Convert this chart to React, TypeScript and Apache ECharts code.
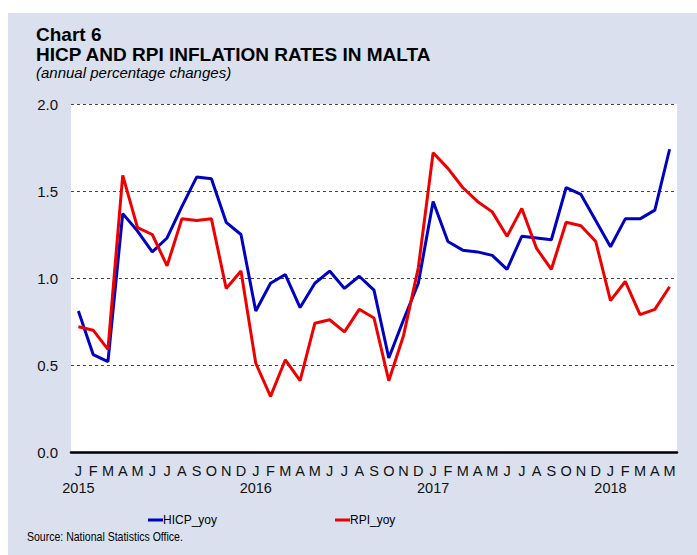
import React, { useEffect, useRef } from "react";
import * as echarts from "echarts";

const monthLetters = ["J", "F", "M", "A", "M", "J", "J", "A", "S", "O", "N", "D"];
const years = ["2015", "2016", "2017", "2018"];
const yTicks = [0, 0.5, 1.0, 1.5, 2.0];

const hicp = [
  0.81, 0.56, 0.52, 1.37, 1.27, 1.15, 1.23, 1.41, 1.58, 1.57, 1.32, 1.25,
  0.81, 0.97, 1.02, 0.83, 0.97, 1.04, 0.94, 1.01, 0.93, 0.54, 0.76, 0.97,
  1.44, 1.21, 1.16, 1.15, 1.13, 1.05, 1.24, 1.23, 1.22, 1.52, 1.48, 1.33,
  1.18, 1.34, 1.34, 1.39, 1.74,
];
const rpi = [
  0.72, 0.70, 0.59, 1.59, 1.29, 1.25, 1.07, 1.34, 1.33, 1.34, 0.94, 1.04,
  0.51, 0.32, 0.53, 0.41, 0.74, 0.76, 0.69, 0.82, 0.77, 0.41, 0.67, 1.06,
  1.72, 1.63, 1.52, 1.44, 1.38, 1.24, 1.40, 1.17, 1.05, 1.32, 1.30, 1.21,
  0.87, 0.98, 0.79, 0.82, 0.95,
];

const categories: string[] = [];
for (let i = 0; i < hicp.length; i++) {
  const m = i % 12;
  const y = Math.floor(i / 12);
  categories.push(m === 0 ? `${monthLetters[m]}\n${years[y]}` : monthLetters[m]);
}

const FONT = "'Liberation Sans', Arial, sans-serif";

export default function App() {
  const ref = useRef<HTMLDivElement>(null);
  useEffect(() => {
    if (!ref.current) return;
    const chart = echarts.init(ref.current, undefined, { renderer: "svg" });
    chart.setOption({
      animation: false,
      backgroundColor: "#ffffff",
      textStyle: { fontFamily: FONT },
      graphic: [
        {
          type: "rect",
          z: -10,
          silent: true,
          shape: { x: 8, y: 13, width: 689, height: 542 },
          style: { fill: "#dae0ed" },
        },
        {
          type: "rect",
          z: -9,
          silent: true,
          shape: { x: 71, y: 104, width: 606, height: 348 },
          style: { fill: "#ffffff" },
        },
        {
          type: "text",
          x: 36,
          y: 34.5,
          style: {
            text: "Chart 6",
            font: `bold 19px ${FONT}`,
            fill: "#000",
            verticalAlign: "middle",
          },
        },
        {
          type: "text",
          x: 36,
          y: 54,
          style: {
            text: "HICP AND RPI INFLATION RATES IN MALTA",
            font: `bold 19px ${FONT}`,
            fill: "#000",
            verticalAlign: "middle",
          },
        },
        {
          type: "text",
          x: 36,
          y: 72.5,
          style: {
            text: "(annual percentage changes)",
            font: `italic 15px ${FONT}`,
            fill: "#000",
            verticalAlign: "middle",
          },
        },
        {
          type: "text",
          x: 27,
          y: 537,
          scaleX: 0.81,
          style: {
            text: "Source: National Statistics Office.",
            font: `13px ${FONT}`,
            fill: "#000",
            verticalAlign: "middle",
          },
        },
      ],
      grid: { left: 71, right: 20, top: 104, bottom: 103, containLabel: false },
      legend: {
        left: 143,
        top: 509,
        icon: "rect",
        itemWidth: 15,
        itemHeight: 3,
        itemGap: 118,
        textStyle: { fontFamily: FONT, fontSize: 12, color: "#000", padding: [0, 0, 0, -5] },
        data: ["HICP_yoy", "RPI_yoy"],
      },
      xAxis: {
        type: "category",
        data: categories,
        boundaryGap: true,
        axisLine: { show: true, lineStyle: { color: "#000", width: 2.5 } },
        axisTick: { show: false },
        axisLabel: {
          interval: 0,
          color: "#111",
          fontSize: 14.5,
          lineHeight: 17,
          margin: 10,
          fontFamily: FONT,
        },
        splitLine: { show: false },
      },
      yAxis: {
        type: "value",
        min: 0,
        max: 2,
        interval: 0.5,
        axisLine: { show: false },
        axisTick: { show: false },
        axisLabel: {
          color: "#111",
          fontSize: 15,
          margin: 13,
          fontFamily: FONT,
          formatter: (v: number) => (yTicks.includes(v) ? v.toFixed(1) : ""),
        },
        splitLine: { show: true, lineStyle: { color: "#444", type: [3, 3], width: 1 } },
      },
      series: [
        {
          name: "HICP_yoy",
          type: "line",
          data: hicp,
          symbol: "none",
          lineStyle: { color: "#0000c0", width: 3 },
          itemStyle: { color: "#0000c0" },
        },
        {
          name: "RPI_yoy",
          type: "line",
          data: rpi,
          symbol: "none",
          lineStyle: { color: "#ee0000", width: 3 },
          itemStyle: { color: "#ee0000" },
        },
      ],
    });
    return () => chart.dispose();
  }, []);
  return (
    <div
      ref={ref}
      style={{ position: "absolute", left: 0, top: 0, width: 697, height: 555 }}
    />
  );
}
